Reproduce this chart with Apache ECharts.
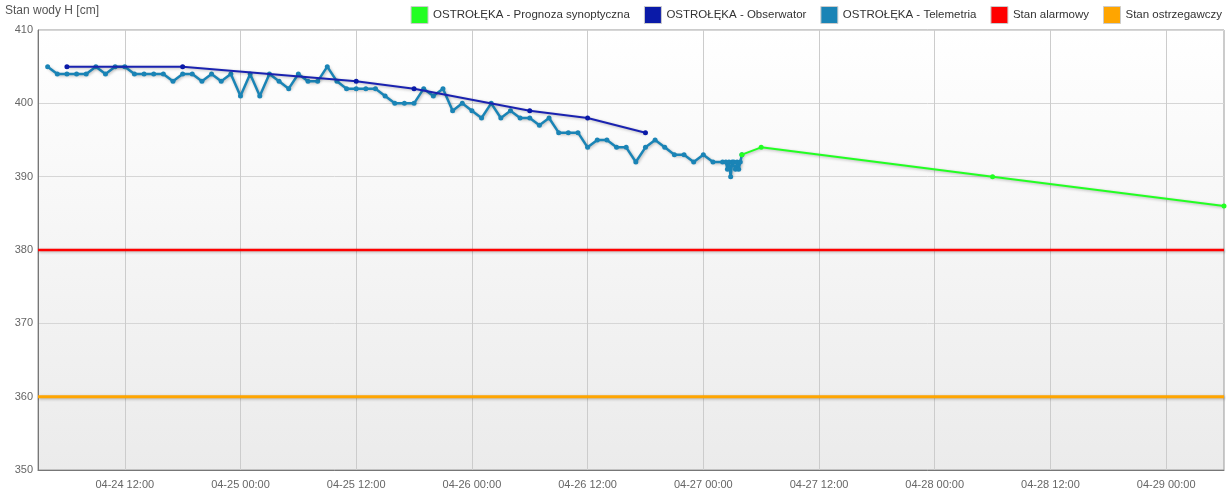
<!DOCTYPE html>
<html>
<head>
<meta charset="utf-8">
<script src="https://cdn.jsdelivr.net/npm/echarts@6/dist/echarts.min.js"></script>
<style>
html,body{margin:0;padding:0;background:#fff;}
#chart{width:1230px;height:494px;}
</style>
</head>
<body>
<div id="chart"></div>
<script>
// ---- data ----
const axisStart = '2024-04-24T03:00';
const axisEnd = '2024-04-29T06:00';
const tickLabels = ['2024-04-24T12:00','2024-04-25T00:00','2024-04-25T12:00','2024-04-26T00:00','2024-04-26T12:00','2024-04-27T00:00','2024-04-27T12:00','2024-04-28T00:00','2024-04-28T12:00','2024-04-29T00:00'];

// Telemetry, hourly from 04-24 04:00 to 04-27 02:00
const telemetryHourlyStart = '2024-04-24T04:00';
const telemetryHourly = [
  405,404,404,404,404,405,404,405,405,404,404,404,404,403,404,404,403,404,403,404,
  401,404,401,404,403,402,404,403,403,405,403,402,402,402,402,401,400,400,400,402,401,402,399,400,
  399,398,400,398,399,398,398,397,398,396,396,396,394,395,395,394,394,392,394,395,394,393,393,392,
  393,392,392
];
// Telemetry, every 10 minutes from 04-27 02:20 to 04:00
const telemetryDenseStart = '2024-04-27T02:20';
const telemetryDense = [392,391,392,390,392,392,391,392,391,392,393];

// Observer readings
const observerTimes = ['2024-04-24T06:00','2024-04-24T18:00','2024-04-25T12:00','2024-04-25T18:00','2024-04-26T06:00','2024-04-26T12:00','2024-04-26T18:00'];
const observerValues = [405,405,403,402,399,398,396];

// Synoptic forecast
const forecastTimes = ['2024-04-27T04:00','2024-04-27T06:00','2024-04-28T06:00','2024-04-29T06:00'];
const forecastValues = [393,394,390,386];

const alarmLevel = 380;
const warningLevel = 360;

const seriesNames = ['OSTROŁĘKA - Prognoza synoptyczna','OSTROŁĘKA - Obserwator','OSTROŁĘKA - Telemetria','Stan alarmowy','Stan ostrzegawczy'];

// ---- helpers ----
function ts(s){ const [d,t]=s.split('T'); const [y,m,dd]=d.split('-').map(Number); const [h,mi]=t.split(':').map(Number); return Date.UTC(y,m-1,dd,h,mi); }
const HOUR = 3600000, MIN10 = 600000;
const pad = n => (n<10?'0':'')+n;
function fmt(v){ const d=new Date(v); return pad(d.getUTCMonth()+1)+'-'+pad(d.getUTCDate())+' '+pad(d.getUTCHours())+':'+pad(d.getUTCMinutes()); }

const tStart = ts(axisStart), tEnd = ts(axisEnd);
const tickTs = tickLabels.map(ts);

const telemetryData = [];
const th0 = ts(telemetryHourlyStart);
telemetryHourly.forEach((v,i)=>telemetryData.push([th0+i*HOUR, v]));
const td0 = ts(telemetryDenseStart);
telemetryDense.forEach((v,i)=>telemetryData.push([td0+i*MIN10, v]));

const observerData = observerTimes.map((t,i)=>[ts(t), observerValues[i]]);
const forecastData = forecastTimes.map((t,i)=>[ts(t), forecastValues[i]]);
const alarmData = [[tStart, alarmLevel],[tEnd, alarmLevel]];
const warningData = [[tStart, warningLevel],[tEnd, warningLevel]];

const shadow = {shadowColor:'rgba(0,0,0,0.28)', shadowBlur:3, shadowOffsetX:1, shadowOffsetY:1};
const FONT = 'Liberation Sans, Arial, sans-serif';

const colors = ['#22ff22','#0a1aa8','#1a80b4','#ff0000','#ffa500'];

const chart = echarts.init(document.getElementById('chart'), null, {renderer:'canvas'});
chart.setOption({
  animation:false,
  textStyle:{fontFamily:FONT},
  title:{text:'Stan wody H [cm]', left:0, top:0, textStyle:{fontSize:12, fontWeight:'normal', color:'#555', fontFamily:FONT}},
  legend:{
    right:3, top:1, icon:'rect', itemWidth:17, itemHeight:17, itemGap:14,
    itemStyle:{borderColor:'#cccccc', borderWidth:1},
    textStyle:{fontSize:11.5, color:'#333', fontFamily:FONT},
    data:seriesNames
  },
  grid:{left:38, right:6, top:30, bottom:24, containLabel:false, outerBoundsMode:'none', show:true,
    borderColor:'#999999', borderWidth:1,
    backgroundColor:new echarts.graphic.LinearGradient(0,0,0,1,[{offset:0,color:'#ffffff'},{offset:1,color:'#ebebeb'}])},
  xAxis:{
    type:'value', min:tStart, max:tEnd, scale:true,
    axisLine:{show:true, lineStyle:{color:'#777', width:1}},
    axisTick:{show:false, customValues:tickTs},
    axisLabel:{customValues:tickTs, formatter:v=>fmt(v), fontSize:11, color:'#666', margin:9, fontFamily:FONT, hideOverlap:false},
    splitLine:{show:true, lineStyle:{color:'#cccccc', width:1}}
  },
  yAxis:{
    type:'value', min:350, max:410, interval:10,
    axisLine:{show:true, lineStyle:{color:'#777', width:1}},
    axisTick:{show:false},
    axisLabel:{fontSize:11, color:'#666', margin:5, fontFamily:FONT},
    splitLine:{show:true, lineStyle:{color:'#d6d6d6', width:1}}
  },
  series:[
    {name:seriesNames[0], type:'line', data:forecastData, color:colors[0], symbol:'circle', symbolSize:5, showSymbol:true,
     lineStyle:Object.assign({width:2, color:colors[0]}, shadow), itemStyle:{color:colors[0]}, z:5},
    {name:seriesNames[1], type:'line', data:observerData, color:colors[1], symbol:'circle', symbolSize:5, showSymbol:true,
     lineStyle:Object.assign({width:2, color:'#1a22b0'}, shadow), itemStyle:{color:colors[1]}, z:6},
    {name:seriesNames[2], type:'line', data:telemetryData, color:colors[2], symbol:'circle', symbolSize:5, showSymbol:true,
     lineStyle:Object.assign({width:2.5, color:'#1a84b6'}, shadow), itemStyle:{color:'#1a84b6'}, z:4},
    {name:seriesNames[3], type:'line', data:alarmData, color:colors[3], symbol:'none',
     lineStyle:Object.assign({width:2.5, color:colors[3]}, shadow), z:3},
    {name:seriesNames[4], type:'line', data:warningData, color:colors[4], symbol:'none',
     lineStyle:Object.assign({width:3, color:colors[4]}, shadow), z:3}
  ]
});
</script>
</body>
</html>
